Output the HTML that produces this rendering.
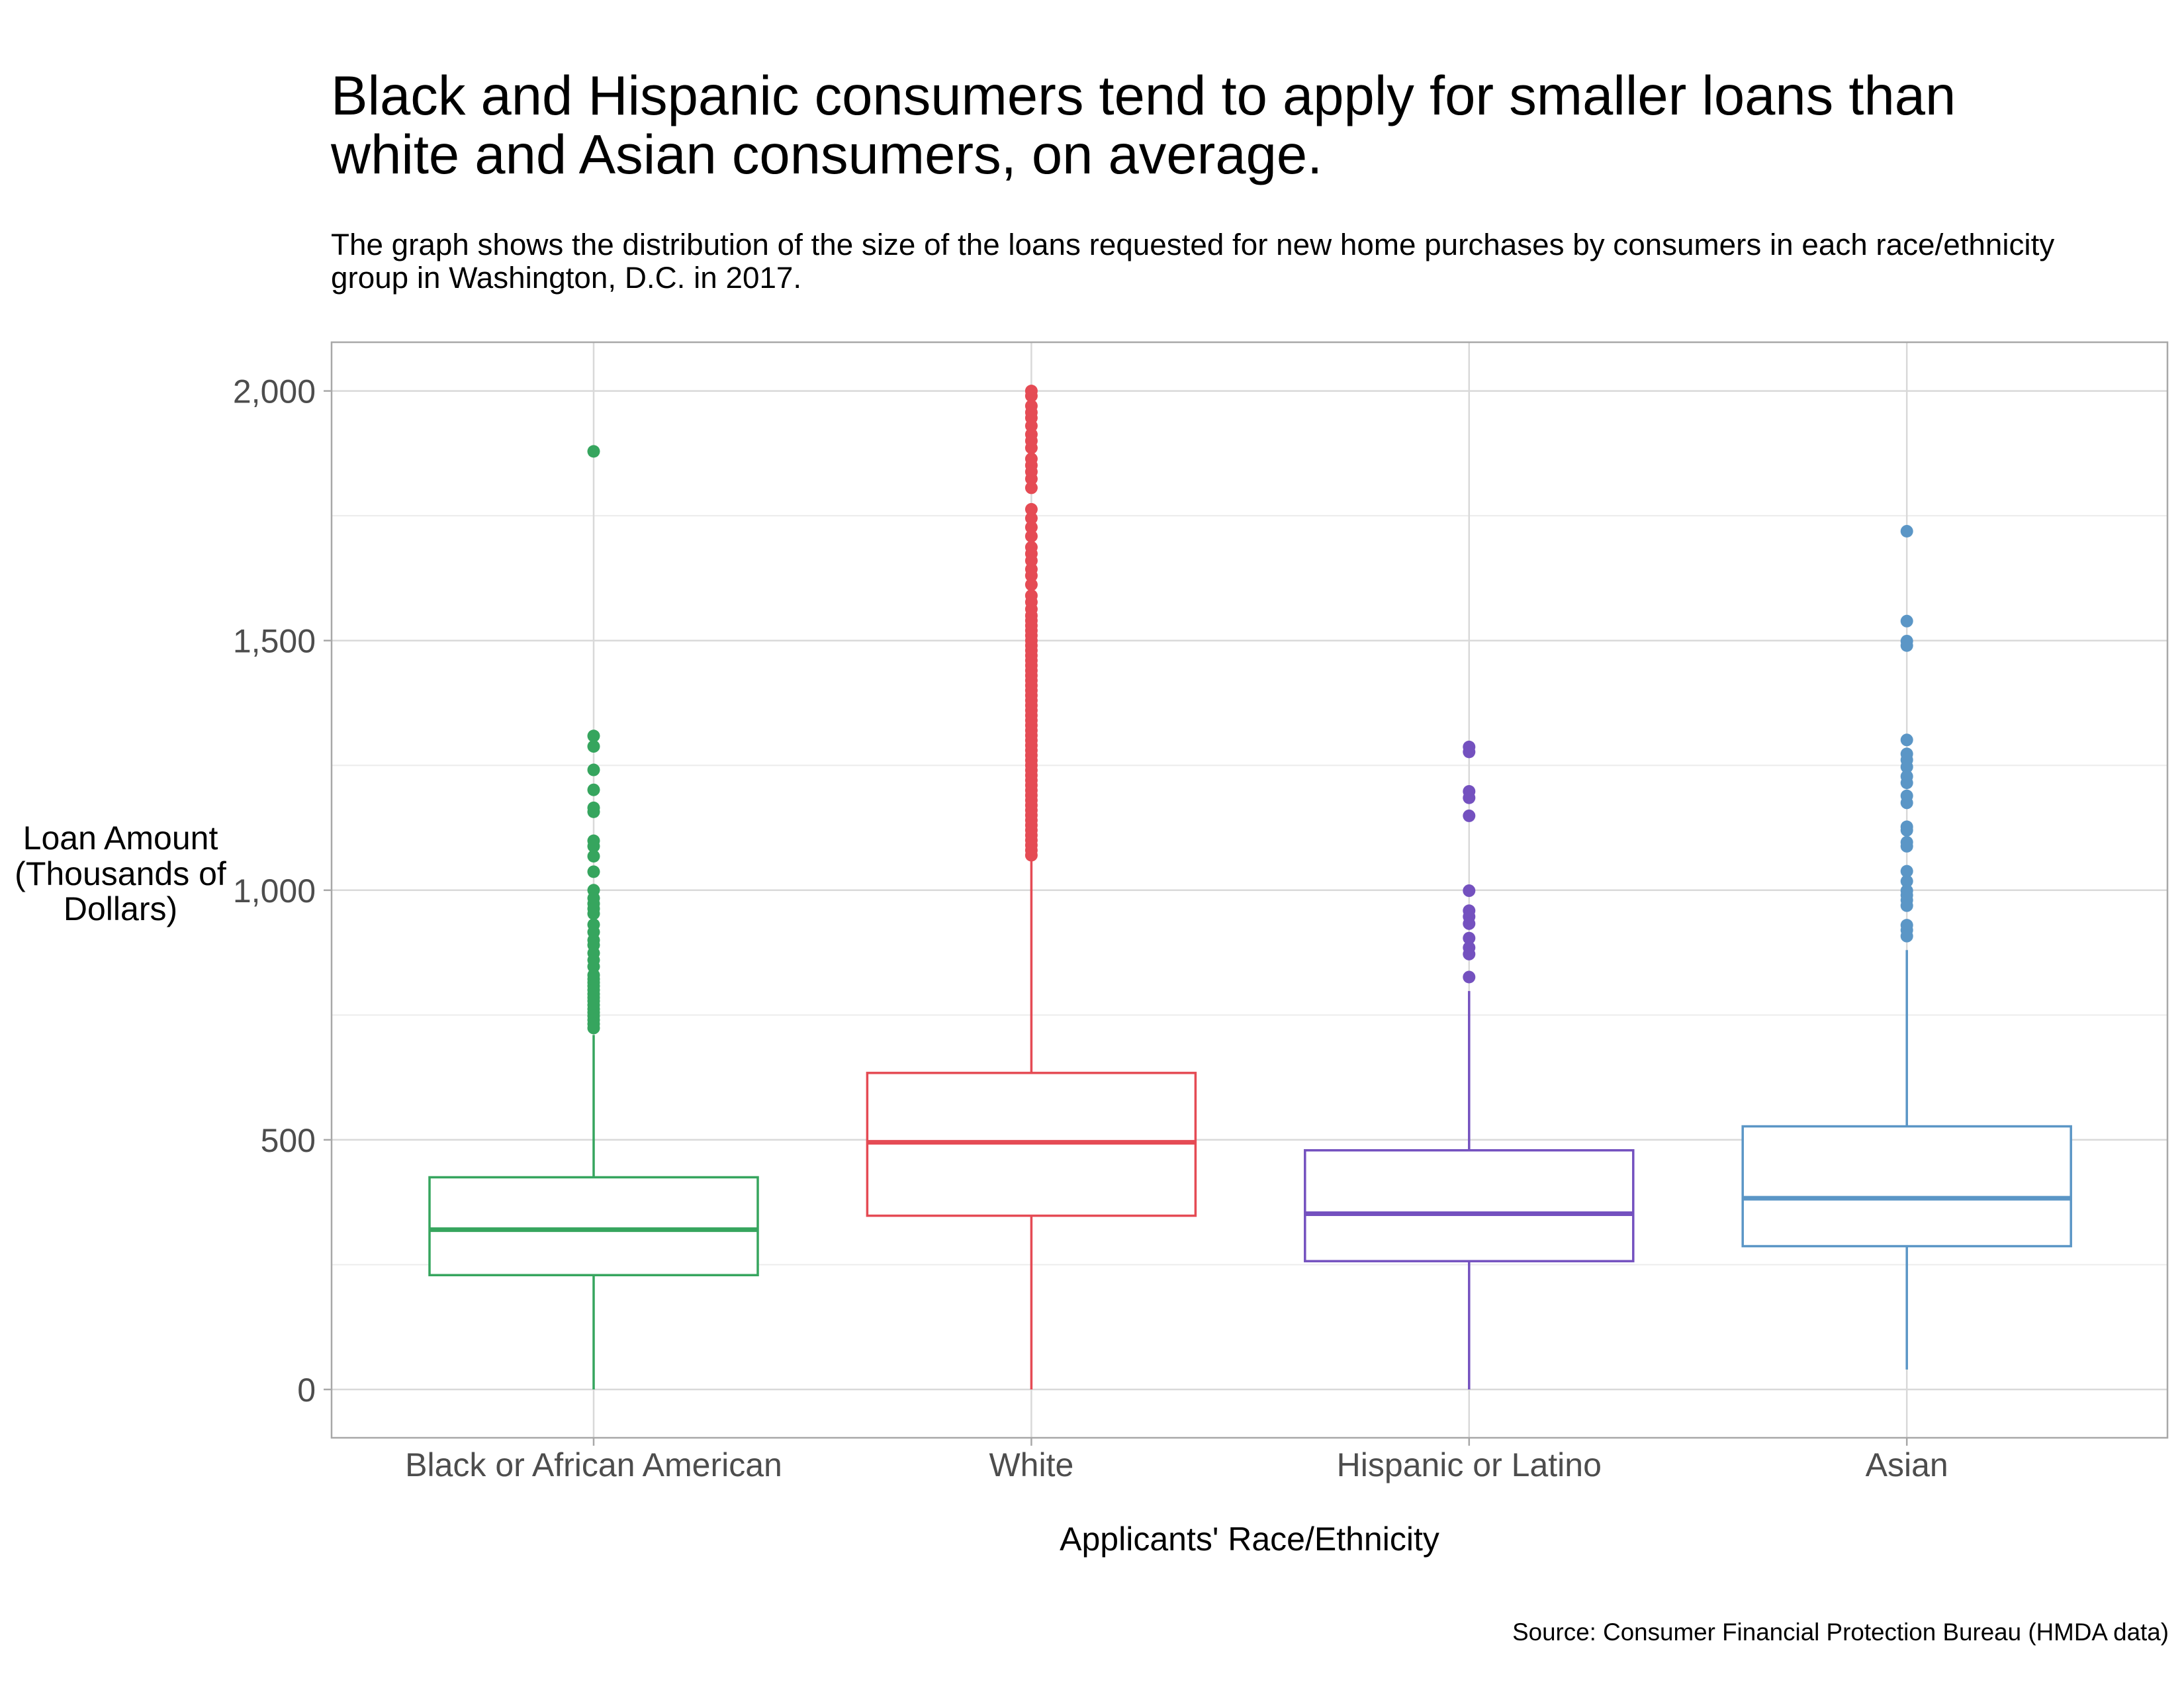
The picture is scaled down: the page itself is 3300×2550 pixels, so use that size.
<!DOCTYPE html>
<html><head><meta charset="utf-8"><style>
html,body{margin:0;padding:0;background:#fff}
svg{display:block}
text{font-family:"Liberation Sans",Arial,sans-serif}
</style></head><body>
<svg id="chart" width="3300" height="2550" viewBox="0 0 3300 2550" xmlns="http://www.w3.org/2000/svg">
<text x="500" y="173" font-size="83.2" fill="#000">Black and Hispanic consumers tend to apply for smaller loans than</text>
<text x="500" y="262" font-size="83.2" fill="#000">white and Asian consumers, on average.</text>
<text x="500" y="385" font-size="45.8" fill="#000">The graph shows the distribution of the size of the loans requested for new home purchases by consumers in each race/ethnicity</text>
<text x="500" y="435" font-size="45.8" fill="#000">group in Washington, D.C. in 2017.</text>
<g id="grid"></g>
<g id="marks"></g>
<rect x="501" y="517" width="2774" height="1655" fill="none" stroke="#a8a8a8" stroke-width="2.5"/>
<g id="axes"></g>
<text x="1888" y="2342" font-size="50" text-anchor="middle" fill="#000">Applicants' Race/Ethnicity</text>
<text text-anchor="middle" font-size="50" fill="#000"><tspan x="182" y="1283">Loan Amount</tspan><tspan x="182" y="1337">(Thousands of</tspan><tspan x="182" y="1390">Dollars)</tspan></text>
<text x="3277" y="2478" font-size="36.8" text-anchor="end" fill="#000">Source: Consumer Financial Protection Bureau (HMDA data)</text>
</svg>
<script>
const categories = ["Black or African American","White","Hispanic or Latino","Asian"];
const colors = ["#36a55e","#e54b54","#7451bf","#5b96c6"];
const q1 = [229, 348, 257, 287];
const median = [320, 495, 352, 383];
const q3 = [425, 634, 479, 527];
const whiskerLow = [0, 0, 0, 40];
const whiskerHigh = [710, 1062, 798, 880];
const outliersBlack = [1879,1309,1288,1241,1201,1165,1157,1099,1088,1068,1037,1000,984,973,963,953,931,916,900,890,874,860,847,830,822,815,808,800,792,785,778,770,762,755,748,740,732,724];
const outliersWhite = [2000,1990,1970,1957,1946,1930,1913,1900,1886,1864,1851,1838,1824,1806,1763,1745,1727,1709,1687,1674,1660,1643,1630,1612,1590,1577,1563,1550,1540,1530,1520,1510,1500,1490,1480,1470,1460,1450,1440,1430,1420,1410,1400,1390,1380,1370,1360,1350,1340,1330,1320,1310,1300,1290,1280,1270,1260,1250,1240,1230,1220,1210,1200,1190,1180,1170,1160,1150,1140,1130,1120,1110,1100,1090,1080,1070];
const outliersHispanic = [1287,1277,1198,1185,1149,999,959,947,933,904,885,872,826];
const outliersAsian = [1719,1539,1499,1490,1301,1273,1261,1247,1228,1215,1189,1175,1127,1120,1096,1088,1038,1018,999,990,980,969,930,920,908];
const yTicks = [0,500,1000,1500,2000];
const yTickLabels = ["0","500","1,000","1,500","2,000"];
const yMinor = [250,750,1250,1750];

const NS="http://www.w3.org/2000/svg";
const yScale = v => 2099 - v*0.7542;
const xScale = i => 897 + i*661.4;
const halfW = 248;
function mk(tag, attrs, parent){const e=document.createElementNS(NS,tag);for(const k in attrs)e.setAttribute(k,attrs[k]);parent.appendChild(e);return e;}
const grid=document.getElementById('grid'), marks=document.getElementById('marks'), axes=document.getElementById('axes');

yMinor.forEach(v=>{const l=mk('line',{x1:501,x2:3275,y1:yScale(v),y2:yScale(v),stroke:'#ececec','stroke-width':2},grid);

});
yTicks.forEach((v,i)=>{const l=mk('line',{x1:501,x2:3275,y1:yScale(v),y2:yScale(v),stroke:'#d9d9d9','stroke-width':2.5},grid);


const t=mk('line',{x1:489,x2:501,y1:yScale(v),y2:yScale(v),stroke:'#a8a8a8','stroke-width':2.5},axes);


const tx=mk('text',{x:477,y:yScale(v)+18,'font-size':50,'text-anchor':'end',fill:'#4d4d4d'},axes);
tx.textContent=yTickLabels[i];

});
categories.forEach((c,i)=>{const x=xScale(i);
const g=mk('line',{x1:x,x2:x,y1:517,y2:2172,stroke:'#d9d9d9','stroke-width':2.5},grid);


const t=mk('line',{x1:x,x2:x,y1:2172,y2:2184,stroke:'#a8a8a8','stroke-width':2.5},axes);


const tx=mk('text',{x:x,y:2230,'font-size':50,'text-anchor':'middle',fill:'#4d4d4d'},axes);
tx.textContent=c;

});

const outliers=[outliersBlack,outliersWhite,outliersHispanic,outliersAsian];
categories.forEach((c,i)=>{const x=xScale(i), col=colors[i];
const g=mk('g',{},marks);


const w1=mk('line',{x1:x,x2:x,y1:yScale(whiskerLow[i]),y2:yScale(q1[i]),stroke:col,'stroke-width':3.5},g);


const w2=mk('line',{x1:x,x2:x,y1:yScale(q3[i]),y2:yScale(whiskerHigh[i]),stroke:col,'stroke-width':3.5},g);


const b=mk('rect',{x:x-halfW,y:yScale(q3[i]),width:2*halfW,height:yScale(q1[i])-yScale(q3[i]),fill:'#fff',stroke:col,'stroke-width':3.5},g);


const m=mk('line',{x1:x-halfW,x2:x+halfW,y1:yScale(median[i]),y2:yScale(median[i]),stroke:col,'stroke-width':7},g);


outliers[i].forEach(v=>{const p=mk('circle',{cx:x,cy:yScale(v),r:9.5,fill:col},g);

});
});
</script>
</body></html>
